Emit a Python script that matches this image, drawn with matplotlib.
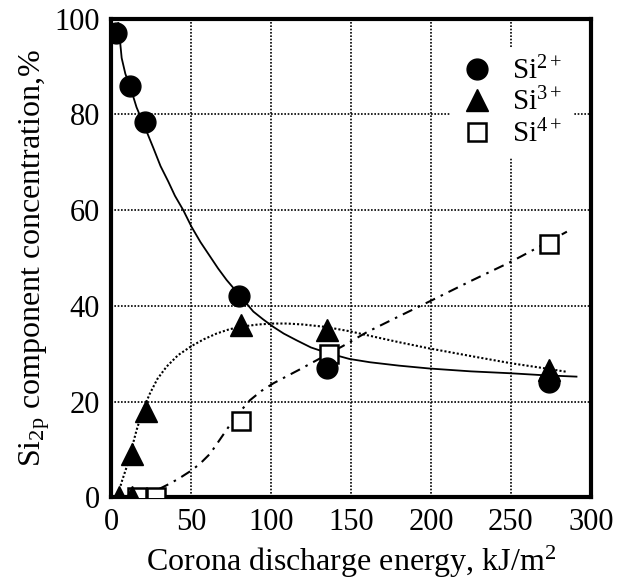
import matplotlib
matplotlib.use('Agg')
import matplotlib.pyplot as plt

plt.rcParams['font.family'] = ['Liberation Serif', 'DejaVu Serif']
plt.rcParams['mathtext.fontset'] = 'custom'
plt.rcParams['mathtext.rm'] = 'Liberation Serif'
plt.rcParams['mathtext.it'] = 'Liberation Serif'

# measured points
si2_x = [3, 12, 21, 80, 135, 274]
si2_y = [97, 86, 78.5, 42, 27, 24]
si3_x = [5, 13, 13, 22, 81, 135, 274]
si3_y = [0, 0, 9, 18, 36, 35, 26.5]
si4_x = [16, 28, 81, 136, 274]
si4_y = [0, 0, 16, 30, 53]

# fitted curves
fit2_x = [4.6, 6.7, 9, 12.3, 16, 21, 26.5, 31, 35.8, 40, 45.2, 50.4, 56, 62, 67,
          72.3, 80.2, 89, 95, 101.5, 108, 116, 125, 134.8, 149, 162, 180, 199,
          225, 250, 270, 291]
fit2_y = [99.1, 91.8, 88.5, 85.5, 81.5, 77.5, 73, 69.2, 66, 63, 60, 56.5, 53.3,
          50.3, 47.8, 45.4, 42.3, 38.8, 37.2, 35.6, 34.2, 32.8, 31.3, 30.2, 28.9,
          28.2, 27.5, 26.9, 26.3, 25.9, 25.5, 25.2]
fit3_x = [3, 4.6, 7, 9.8, 13, 16, 20, 24.4, 29, 34.8, 42, 50.4, 58, 66, 74, 82.7,
          92, 101.5, 110, 120, 134, 149, 165, 180, 199, 225, 250, 268, 285]
fit3_y = [0, 0.8, 3.5, 6.3, 10.2, 14, 18.3, 21.7, 24.7, 27.3, 29.7, 31.6, 33,
          34.2, 35.1, 35.7, 36.1, 36.3, 36.3, 36.1, 35.6, 34.7, 33.5, 32.4, 31.1,
          29.5, 28, 27.1, 26.2]
fit4_x = [30, 34.8, 42, 50.4, 56, 62, 68, 75.4, 81, 87, 94, 101.5, 110, 118,
          124, 134, 145, 160, 180, 199, 225, 250, 268, 285]
fit4_y = [1.7, 2.5, 3.8, 5.6, 7.1, 9.1, 12, 15.6, 18, 20.3, 22.2, 23.8, 25.3,
          26.7, 27.8, 29.6, 31.6, 34.5, 37.8, 40.9, 45.2, 49.2, 52.4, 55.5]

fig = plt.figure(figsize=(6.34, 5.87), dpi=100)
ax = fig.add_axes([0.175, 0.153, 0.757, 0.815])

ax.plot(fit2_x, fit2_y, color='black', lw=1.3, zorder=2)
ax.plot(fit3_x, fit3_y, color='black', lw=1.5, ls=(0, (1, 1)), zorder=2)
ax.plot(fit4_x, fit4_y, color='black', lw=1.5, ls=(0, (5, 3, 1.2, 3)), zorder=2)

ax.plot(si2_x, si2_y, 'o', color='black', ms=15, ls='none', label='Si$^{2+}$', zorder=4)
ax.plot(si3_x, si3_y, '^', color='black', ms=15.5, ls='none', label='Si$^{3+}$', zorder=4)
ax.plot(si4_x, si4_y, 's', mfc='white', mec='black', mew=1.8, ms=12.5, ls='none',
        label='Si$^{4+}$', zorder=3)

ax.set_xlim(0, 300)
ax.set_ylim(0, 100)
ax.set_xticks([0, 50, 100, 150, 200, 250, 300])
ax.set_yticks([0, 20, 40, 60, 80, 100])
ax.tick_params(length=0, labelsize=22, pad=8)
ax.grid(True, color='black', ls=(0, (1, 1)), lw=1.2)
ax.set_axisbelow(True)
for s in ax.spines.values():
    s.set_linewidth(3)

ax.set_xlabel('Corona discharge energy, kJ/m$^2$', fontsize=23, labelpad=5)
ax.set_ylabel('Si$_{2p}$ component concentration,%', fontsize=23, labelpad=2)

leg = ax.legend(loc='upper right', bbox_to_anchor=(0.99, 0.97), frameon=True,
                fontsize=21, handletextpad=0.6, labelspacing=0.1,
                borderpad=0.3, handlelength=1.2)
leg.get_frame().set_edgecolor('white')
leg.get_frame().set_alpha(1)

fig.savefig('out.png', dpi=100)
